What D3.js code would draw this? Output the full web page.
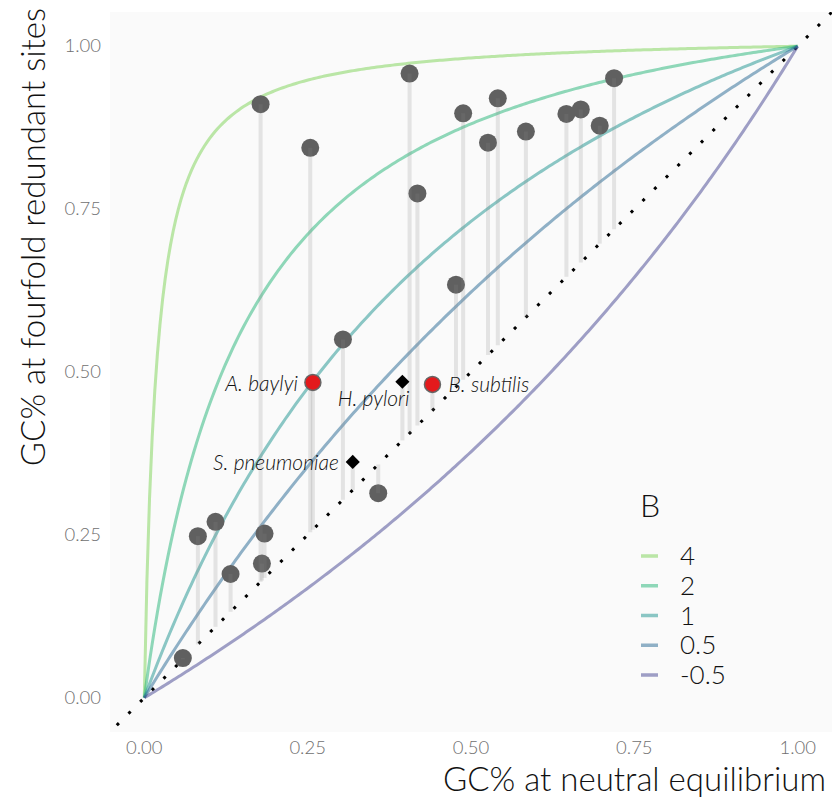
<!DOCTYPE html>
<html><head><meta charset="utf-8">
<script src="https://cdn.jsdelivr.net/npm/d3@7"></script>
<style>
body{margin:0;background:#fff;}
text{font-family:Lato,"Open Sans",sans-serif;}
</style></head>
<body><svg id="c" width="832" height="801"></svg>
<script>
// ---- data ----
const neutralGC = [0.178,0.254,0.406,0.418,0.488,0.541,0.526,0.584,0.646,0.668,0.697,0.719,0.477,0.304,0.358,0.082,0.109,0.132,0.184,0.180,0.059];
const fourfoldGC = [0.911,0.844,0.958,0.774,0.897,0.920,0.852,0.869,0.896,0.903,0.878,0.951,0.634,0.550,0.314,0.248,0.270,0.190,0.252,0.206,0.061];
const redNames = ["A. baylyi","B. subtilis"];
const redNeutral = [0.258,0.441];
const redFourfold = [0.484,0.481];
const diamondNames = ["H. pylori","S. pneumoniae"];
const diamondNeutral = [0.395,0.319];
const diamondFourfold = [0.485,0.362];
const Bvalues = [4,2,1,0.5,-0.5];
const Bcolors = ["#7ad151","#22b476","#1a928e","#246692","#42428f"];
const tickValues = [0,0.25,0.5,0.75,1];
const tickLabels = ["0.00","0.25","0.50","0.75","1.00"];

const svg = d3.select("#c");
const L=110,R=832,T=12,Bt=732;
const x = d3.scaleLinear().domain([-0.0525,1.0525]).range([L,R]);
const y = d3.scaleLinear().domain([-0.0525,1.0525]).range([Bt,T]);

svg.append("rect").attr("x",L).attr("y",T).attr("width",R-L).attr("height",Bt-T).attr("fill","#fafafa");
svg.append("clipPath").attr("id","clip").append("rect").attr("x",L).attr("y",T).attr("width",R-L).attr("height",Bt-T);
const g = svg.append("g").attr("clip-path","url(#clip)");

// diagonal dotted line
g.append("line").attr("x1",x(-0.06)).attr("y1",y(-0.06)).attr("x2",x(1.06)).attr("y2",y(1.06))
  .attr("stroke","#000").attr("stroke-width",3).attr("stroke-dasharray","3,13.5");

// equilibrium curves
const pGrid = d3.range(0,1.0001,0.004);
const line = d3.line().x(d=>x(d[0])).y(d=>y(d[1]));
Bvalues.forEach((b,i)=>{
  const pts = pGrid.map(p=>[p, p*Math.exp(b)/(p*Math.exp(b)+(1-p))]);
  g.append("path").attr("d",line(pts)).attr("fill","none").attr("stroke",Bcolors[i])
    .attr("stroke-opacity",0.5).attr("stroke-width",3);
});

// points
neutralGC.forEach((nx,i)=>{
  g.append("circle").attr("cx",x(nx)).attr("cy",y(fourfoldGC[i])).attr("r",9).attr("fill","#606060");
});
// segments
const segs = [];
neutralGC.forEach((nx,i)=>segs.push([nx,fourfoldGC[i]]));
redNeutral.forEach((nx,i)=>segs.push([nx,redFourfold[i]]));
diamondNeutral.forEach((nx,i)=>segs.push([nx,diamondFourfold[i]]));
segs.forEach(s=>{
  g.append("line").attr("x1",x(s[0])).attr("x2",x(s[0])).attr("y1",y(s[1])).attr("y2",y(s[0]))
   .attr("stroke","#858585").attr("stroke-opacity",0.2).attr("stroke-width",4);
});
// red points
redNeutral.forEach((nx,i)=>{
  g.append("circle").attr("cx",x(nx)).attr("cy",y(redFourfold[i])).attr("r",8)
   .attr("fill","#e31a1c").attr("stroke","#666").attr("stroke-width",1.5);
});
// diamonds
diamondNeutral.forEach((nx,i)=>{
  g.append("path").attr("d",d3.symbol(d3.symbolSquare,100)())
   .attr("transform",`translate(${x(nx)},${y(diamondFourfold[i])}) rotate(45)`).attr("fill","#000");
});
// labels
const lab = (t,px,py,anchor)=>svg.append("text").attr("x",px).attr("y",py).attr("text-anchor",anchor)
  .attr("font-style","italic").attr("font-size",21).attr("font-weight",300).attr("fill","#111").text(t);
lab(redNames[0], x(redNeutral[0])-15, y(redFourfold[0])+9, "end");
lab(redNames[1], x(redNeutral[1])+16, y(redFourfold[1])+8, "start");
lab(diamondNames[0], x(diamondNeutral[0])+7, y(diamondFourfold[0])+24, "end");
lab(diamondNames[1], x(diamondNeutral[1])-14, y(diamondFourfold[1])+8, "end");

// axes tick labels
tickValues.forEach((v,i)=>{
  svg.append("text").attr("x",x(v)).attr("y",754).attr("text-anchor","middle")
    .attr("font-size",18.5).attr("font-weight",300).attr("fill","#707070").text(tickLabels[i]);
  svg.append("text").attr("x",101).attr("y",y(v)+6).attr("text-anchor","end")
    .attr("font-size",18.5).attr("font-weight",300).attr("fill","#707070").text(tickLabels[i]);
});
svg.append("text").attr("x",826).attr("y",791).attr("text-anchor","end").attr("font-size",33)
  .attr("font-weight",300).attr("fill","#111").text("GC% at neutral equilibrium");
svg.append("text").attr("transform","translate(45,8) rotate(-90)").attr("text-anchor","end")
  .attr("font-size",33).attr("font-weight",300).attr("fill","#111").text("GC% at fourfold redundant sites");

// legend
svg.append("text").attr("x",640).attr("y",517).attr("font-size",32).attr("font-weight",300).attr("fill","#111").text("B");
const keyY = d3.scalePoint().domain(Bvalues.map(String)).range([556,675]);
Bvalues.forEach((b,i)=>{
  const yy = keyY(String(b));
  svg.append("line").attr("x1",641).attr("x2",658).attr("y1",yy).attr("y2",yy)
    .attr("stroke",Bcolors[i]).attr("stroke-opacity",0.5).attr("stroke-width",3.5);
  svg.append("text").attr("x",680).attr("y",yy+9).attr("font-size",26).attr("font-weight",300)
    .attr("fill","#111").text(String(b));
});
</script></body></html>
